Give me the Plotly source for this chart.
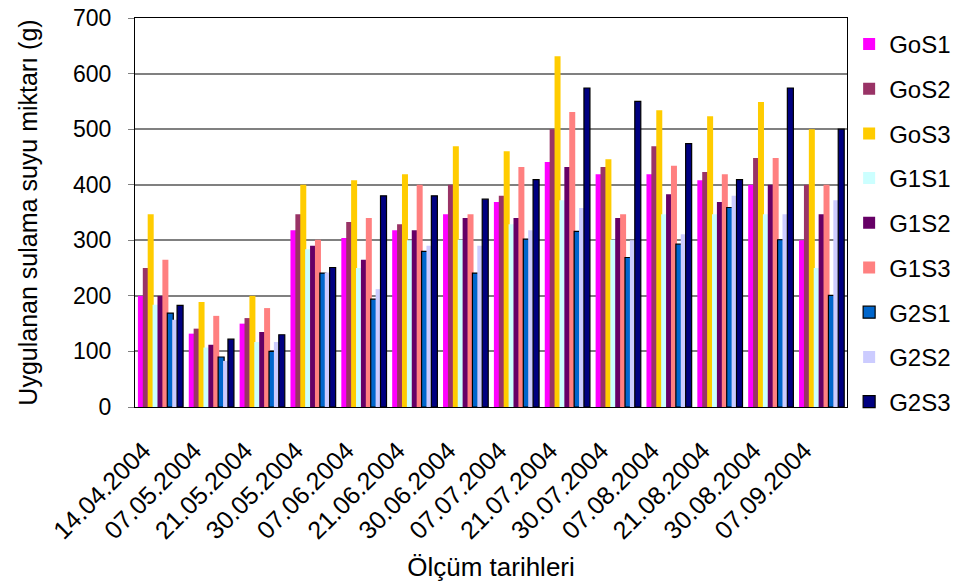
import plotly.graph_objects as go

dates = ["14.04.2004", "07.05.2004", "21.05.2004", "30.05.2004", "07.06.2004",
         "21.06.2004", "30.06.2004", "07.07.2004", "21.07.2004", "30.07.2004",
         "07.08.2004", "21.08.2004", "30.08.2004", "07.09.2004"]

GoS1 = [200, 132, 150, 318, 304, 318, 347, 369, 441, 419, 419, 408, 400, 300]
GoS2 = [250, 141, 160, 347, 333, 329, 400, 380, 500, 432, 469, 423, 448, 400]
GoS3 = [347, 189, 200, 400, 408, 419, 469, 460, 631, 446, 534, 523, 549, 500]
G1S1 = [184, 107, 117, 284, 250, 300, 301, 329, 372, 301, 347, 347, 347, 250]
G1S2 = [200, 112, 135, 290, 265, 318, 340, 340, 432, 340, 383, 369, 400, 347]
G1S3 = [265, 164, 178, 301, 340, 400, 347, 432, 531, 347, 434, 419, 448, 400]
G2S1 = [169, 90, 100, 241, 194, 280, 241, 302, 316, 269, 293, 359, 301, 201]
G2S2 = [157, 83, 117, 242, 212, 290, 290, 318, 358, 300, 311, 380, 347, 372]
G2S3 = [183, 122, 130, 251, 380, 380, 374, 409, 574, 550, 474, 409, 574, 500]

series_names = ["GoS1", "GoS2", "GoS3", "G1S1", "G1S2", "G1S3", "G2S1", "G2S2", "G2S3"]
series_values = [GoS1, GoS2, GoS3, G1S1, G1S2, G1S3, G2S1, G2S2, G2S3]
colors = ["#FF00FF", "#993366", "#FFCC00", "#CCFFFF", "#660066", "#FF8080",
          "#0066CC", "#CCCCFF", "#000080"]
outlined = [False, False, False, False, False, False, True, False, True]

step = 0.0963
bw = 0.118
start = -0.443

fig = go.Figure()
for i, (name, vals, col, ol) in enumerate(zip(series_names, series_values, colors, outlined)):
    fig.add_trace(go.Bar(
        x=dates, y=vals, name=name,
        marker=dict(color=col, line=dict(color="#000000", width=1.2 if ol else 0)),
        offset=start + i * step, width=bw,
        legendgroup=name,
    ))

font_family = "Liberation Sans, Arial, sans-serif"
fig.update_layout(
    barmode="overlay",
    width=957, height=586,
    margin=dict(l=135, r=110, t=18, b=179, autoexpand=False),
    plot_bgcolor="white", paper_bgcolor="white",
    font=dict(family=font_family, color="black", size=22),
    showlegend=True,
    legend=dict(x=1.003, y=0.99, xanchor="left", yanchor="top",
                font=dict(size=24), tracegroupgap=10.5, traceorder="grouped",
                maxheight=586, bgcolor="rgba(0,0,0,0)"),
    xaxis=dict(type="category", tickangle=-45, tickfont=dict(size=25),
               ticklabelshift=-17, ticklabelstandoff=18,
               showline=True, linecolor="black", linewidth=1, mirror=True,
               showgrid=False, ticks="",
               title=dict(text="Ölçüm tarihleri", font=dict(size=26), standoff=14)),
    yaxis=dict(range=[0, 700], dtick=100, tickfont=dict(size=23),
               ticklabelstandoff=12,
               showline=True, linecolor="black", linewidth=1, mirror=True,
               showgrid=True, gridcolor="#808080", gridwidth=1.5,
               ticks="outside", ticklen=6, tickcolor="#808080",
               title=dict(text="Uygulanan sulama suyu miktarı (g)", font=dict(size=25), standoff=28)),
)

fig.write_html("out.html")
